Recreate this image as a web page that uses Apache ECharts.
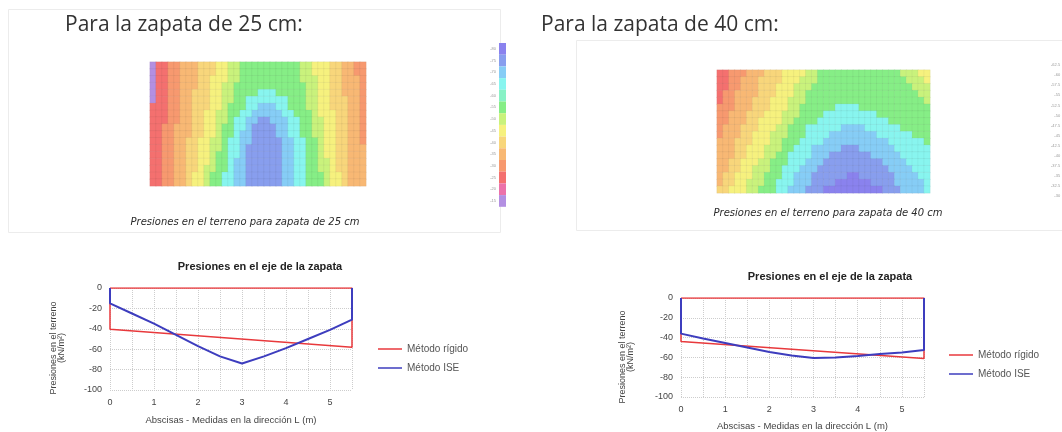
<!DOCTYPE html>
<html><head><meta charset="utf-8">
<script src="https://cdn.jsdelivr.net/npm/echarts@6/dist/echarts.min.js"></script>
<style>html,body{margin:0;padding:0;background:#fff}#c{width:1062px;height:432px}</style>
</head><body><div id="c"></div>
<script>
// ---- colour bands (contour levels) ----
const levels = [0, 0.5, 1, 2, 3, 4, 5, 6, 7, 7.5, 8, 9, 10, 11];
const levelColors = ['#b38fe2','#ec72aa','#f4706f','#f7996f','#f8b874','#f8d67b','#f6f17e','#c9f27c','#86ee86','#88f2c6','#88f5ef','#86cdf6','#889eee','#8a82ee'];
const barLabels25 = ['-15','-20','-25','-30','-35','-40','-45','-50','-55','-60','-65','-70','-75','-80'];
const barLabels40 = ['-30','-32.5','-35','-37.5','-40','-42.5','-45','-47.5','-50','-52.5','-55','-57.5','-60','-62.5'];

// ---- heat maps: each row = run-length pairs [level, end column] (36 columns x 18 rows, top row first) ----
const map25 = [
  [0,1, 1,3, 2,5, 3,8, 4,11, 5,13, 6,15, 7,25, 6,27, 5,30, 4,32, 3,34, 2,36],
  [0,1, 1,3, 2,5, 3,8, 4,11, 5,13, 6,15, 7,25, 6,27, 5,30, 4,32, 3,34, 2,36],
  [0,1, 1,3, 2,5, 3,8, 4,10, 5,13, 6,15, 7,25, 6,28, 5,30, 4,32, 3,35, 2,36],
  [0,1, 1,3, 2,5, 3,8, 4,10, 5,12, 6,14, 7,26, 6,28, 5,30, 4,32, 3,35, 2,36],
  [0,1, 1,3, 2,5, 3,7, 4,10, 5,12, 6,14, 7,18, 8,21, 7,26, 6,28, 5,30, 4,32, 3,35, 2,36],
  [0,1, 1,3, 2,5, 3,7, 4,10, 5,12, 6,14, 7,16, 8,23, 7,26, 6,28, 5,30, 4,33, 3,35, 2,36],
  [1,3, 2,5, 3,7, 4,10, 5,12, 6,13, 7,16, 8,18, 9,21, 8,23, 7,26, 6,28, 5,30, 4,33, 3,35, 2,36],
  [1,3, 2,5, 3,7, 4,9, 5,11, 6,13, 7,15, 8,17, 9,22, 8,24, 7,27, 6,28, 5,31, 4,33, 3,35, 2,36],
  [1,3, 2,5, 3,7, 4,9, 5,11, 6,13, 7,14, 8,16, 9,18, 10,20, 9,23, 8,25, 7,27, 6,29, 5,31, 4,33, 3,35, 2,36],
  [1,2, 2,4, 3,7, 4,9, 5,11, 6,12, 7,14, 8,16, 9,17, 10,21, 9,23, 8,25, 7,27, 6,29, 5,31, 4,33, 3,35, 2,36],
  [1,2, 2,4, 3,7, 4,9, 5,11, 6,12, 7,14, 8,15, 9,17, 10,21, 9,23, 8,25, 7,27, 6,29, 5,31, 4,33, 3,35, 2,36],
  [1,2, 2,4, 3,6, 4,8, 5,10, 6,12, 7,13, 8,15, 9,17, 10,22, 9,24, 8,26, 7,28, 6,29, 5,31, 4,33, 3,35, 2,36],
  [1,2, 2,4, 3,6, 4,8, 5,10, 6,12, 7,13, 8,15, 9,16, 10,22, 9,24, 8,26, 7,28, 6,29, 5,31, 4,33, 3,36],
  [1,2, 2,4, 3,6, 4,8, 5,10, 6,11, 7,13, 8,15, 9,16, 10,22, 9,24, 8,26, 7,28, 6,29, 5,31, 4,33, 3,36],
  [1,2, 2,4, 3,6, 4,8, 5,10, 6,11, 7,13, 8,14, 9,16, 10,22, 9,24, 8,26, 7,28, 6,30, 5,31, 4,33, 3,36],
  [1,2, 2,4, 3,6, 4,8, 5,9, 6,11, 7,13, 8,14, 9,16, 10,22, 9,24, 8,26, 7,28, 6,30, 5,31, 4,33, 3,36],
  [1,2, 2,4, 3,6, 4,7, 5,9, 6,10, 7,12, 8,14, 9,16, 10,22, 9,24, 8,26, 7,29, 6,30, 5,32, 4,33, 3,36],
  [1,2, 2,4, 3,6, 4,7, 5,9, 6,10, 7,12, 8,14, 9,16, 10,22, 9,24, 8,26, 7,29, 6,30, 5,32, 4,33, 3,36]
];
const map40 = [
  [1,2, 2,5, 3,8, 4,11, 5,15, 6,17, 7,31, 6,34, 5,36],
  [1,2, 2,4, 3,7, 4,11, 5,14, 6,17, 7,32, 6,35, 5,36],
  [1,2, 2,4, 3,7, 4,10, 5,13, 6,16, 7,33, 6,36],
  [1,1, 2,3, 3,7, 4,10, 5,13, 6,15, 7,34, 6,36],
  [1,1, 2,3, 3,6, 4,9, 5,12, 6,15, 7,35, 6,36],
  [2,3, 3,6, 4,9, 5,12, 6,14, 7,20, 8,24, 7,36],
  [2,2, 3,5, 4,8, 5,11, 6,14, 7,18, 8,27, 7,36],
  [2,2, 3,5, 4,7, 5,11, 6,13, 7,17, 8,29, 7,36],
  [2,1, 3,4, 4,7, 5,10, 6,12, 7,15, 8,21, 9,25, 8,31, 7,36],
  [2,1, 3,4, 4,6, 5,9, 6,12, 7,15, 8,19, 9,27, 8,33, 7,36],
  [3,3, 4,6, 5,9, 6,11, 7,14, 8,18, 9,29, 8,35, 7,36],
  [3,3, 4,5, 5,8, 6,11, 7,13, 8,16, 9,21, 10,24, 9,30, 8,36],
  [3,3, 4,5, 5,8, 6,10, 7,12, 8,16, 9,19, 10,26, 9,31, 8,36],
  [3,2, 4,4, 5,7, 6,9, 7,12, 8,15, 9,18, 10,28, 9,32, 8,36],
  [3,2, 4,4, 5,6, 6,9, 7,11, 8,14, 9,17, 10,29, 9,33, 8,36],
  [3,1, 4,3, 5,6, 6,8, 7,11, 8,13, 9,16, 10,22, 11,24, 10,30, 9,34, 8,36],
  [3,1, 4,3, 5,5, 6,8, 7,10, 8,13, 9,16, 10,20, 11,26, 10,30, 9,35, 8,36],
  [4,2, 5,5, 6,7, 7,10, 8,12, 9,15, 10,18, 11,28, 10,31, 9,35, 8,36]
];

// ---- pressure along the footing axis ----
const xPos = [0, 0.5, 1, 1.5, 2, 2.5, 3, 3.5, 4, 4.5, 5, 5.5];
const ise25 = [-15, -25, -35, -46, -57, -67, -74, -67, -59, -50, -41, -31];
const ise40 = [-36, -41, -45.5, -50, -54.5, -58, -60.5, -60, -58.5, -56.5, -55, -52.5];
const rigidoX = [0, 5.5];
const rigido25 = [-40.5, -58];
const rigido40 = [-44, -61];
const xTickLabels = [0, 1, 2, 3, 4, 5];
const yTicks = [0, -20, -40, -60, -80, -100];
const L = 5.5;

function decode(rows) {
  const out = [];
  rows.forEach((row, r) => {
    let start = 0;
    for (let i = 0; i < row.length; i += 2) {
      for (let c = start; c < row[i + 1]; c++) out.push([c, r, row[i]]);
      start = row[i + 1];
    }
  });
  return out;
}
function closedProfile(xs, ys, closeTop) {
  const d = [[xs[0], 0]];
  xs.forEach((x, i) => d.push([x, ys[i]]));
  d.push([xs[xs.length - 1], 0]);
  if (closeTop) d.push([xs[0], 0]);
  return d;
}
const cols = Array.from({length: 36}, (_, i) => String(i));
const rowsCat = Array.from({length: 18}, (_, i) => String(i));
const F = 'Liberation Sans';
const RED = '#e8393c', BLUE = '#3d3dbe';

function hmAxes(grid) {
  const hid = {show: false};
  return [
    {type: 'category', gridIndex: grid, data: cols, axisLine: hid, axisTick: hid, axisLabel: hid, splitLine: hid},
    {type: 'category', gridIndex: grid, data: rowsCat, inverse: true, axisLine: hid, axisTick: hid, axisLabel: hid, splitLine: hid}
  ];
}
function lineX(grid, gap) {
  return {type: 'value', gridIndex: grid, min: 0, max: L, interval: 0.5,
    axisLine: {show: false}, axisTick: {show: false},
    axisLabel: {formatter: v => xTickLabels.includes(v) ? String(v) : '', fontSize: 9, color: '#444', margin: 8, fontFamily: F},
    splitLine: {show: true, lineStyle: {color: '#cdcdcd', type: 'dotted', width: 1}},
    name: 'Abscisas - Medidas en la dirección L (m)', nameLocation: 'middle', nameGap: gap,
    nameTextStyle: {fontSize: 9.5, color: '#444', fontFamily: F}};
}
function lineY(grid) {
  return {type: 'value', gridIndex: grid, min: yTicks[yTicks.length - 1], max: yTicks[0], interval: 20,
    axisLine: {show: false}, axisTick: {show: false},
    axisLabel: {fontSize: 9, color: '#444', margin: 8, fontFamily: F},
    splitLine: {show: true, lineStyle: {color: '#cdcdcd', type: 'dotted', width: 1}}};
}
const hmXY = hmAxes(0), hmXY2 = hmAxes(1);

const chart = echarts.init(document.getElementById('c'), null, {renderer: 'canvas'});
chart.setOption({
  animation: false,
  backgroundColor: '#fff',
  grid: [
    {left: 150, top: 62, width: 216, height: 124},
    {left: 717, top: 70, width: 213, height: 123},
    {left: 110, top: 288, width: 242, height: 102},
    {left: 681, top: 298, width: 243, height: 99}
  ],
  xAxis: [hmXY[0], hmXY2[0], lineX(2, 25), lineX(3, 24)],
  yAxis: [hmXY[1], hmXY2[1], lineY(2), lineY(3)],
  visualMap: [
    {type: 'piecewise', seriesIndex: 0, orient: 'vertical', padding: 0,
      pieces: levels.map((v, i) => ({value: v, color: levelColors[i], label: barLabels25[i]})),
      itemWidth: 7, itemHeight: 11.7, itemGap: 0, itemSymbol: 'rect', align: 'right', textGap: 3,
      right: 556, top: 43, selectedMode: false, hoverLink: false,
      textStyle: {fontSize: 4, color: '#9a9a9a', fontFamily: F}},
    {type: 'piecewise', seriesIndex: 1, orient: 'vertical', padding: 0,
      pieces: levels.map((v, i) => ({value: v, color: levelColors[i], label: barLabels40[i]})),
      itemWidth: 7, itemHeight: 10.1, itemGap: 0, itemSymbol: 'rect', align: 'right', textGap: 6,
      left: 1051, top: 60, selectedMode: false, hoverLink: false,
      textStyle: {fontSize: 4, color: '#9a9a9a', fontFamily: F}}
  ],
  legend: [
    {data: ['Método rígido', 'Método ISE'], orient: 'vertical', left: 378, top: 343, padding: 0,
      icon: 'rect', itemWidth: 24, itemHeight: 1.5, itemGap: 7, selectedMode: false,
      textStyle: {fontSize: 10, color: '#555', fontFamily: F, lineHeight: 12}},
    {data: ['Método rígido', 'Método ISE'], orient: 'vertical', left: 949, top: 349, padding: 0,
      icon: 'rect', itemWidth: 24, itemHeight: 1.5, itemGap: 7, selectedMode: false,
      textStyle: {fontSize: 10, color: '#555', fontFamily: F, lineHeight: 12}}
  ],
  series: [
    {type: 'heatmap', xAxisIndex: 0, yAxisIndex: 0, data: decode(map25), silent: true,
      itemStyle: {borderColor: 'rgba(90,90,90,0.13)', borderWidth: 0.5}, emphasis: {disabled: true}},
    {type: 'heatmap', xAxisIndex: 1, yAxisIndex: 1, data: decode(map40), silent: true,
      itemStyle: {borderColor: 'rgba(90,90,90,0.13)', borderWidth: 0.5}, emphasis: {disabled: true}},
    {name: 'Método rígido', type: 'line', xAxisIndex: 2, yAxisIndex: 2, data: closedProfile(rigidoX, rigido25, true),
      symbol: 'none', color: RED, lineStyle: {color: RED, width: 1.5}, z: 3},
    {name: 'Método ISE', type: 'line', xAxisIndex: 2, yAxisIndex: 2, data: closedProfile(xPos, ise25, false),
      symbol: 'none', color: BLUE, lineStyle: {color: BLUE, width: 2}, z: 4},
    {name: 'Método rígido', type: 'line', xAxisIndex: 3, yAxisIndex: 3, data: closedProfile(rigidoX, rigido40, true),
      symbol: 'none', color: RED, lineStyle: {color: RED, width: 1.5}, z: 3},
    {name: 'Método ISE', type: 'line', xAxisIndex: 3, yAxisIndex: 3, data: closedProfile(xPos, ise40, false),
      symbol: 'none', color: BLUE, lineStyle: {color: BLUE, width: 2}, z: 4}
  ],
  graphic: [
    {type: 'rect', silent: true, z: -10, shape: {x: 8.5, y: 9.5, width: 492, height: 223}, style: {fill: 'none', stroke: '#ececec', lineWidth: 1}},
    {type: 'rect', silent: true, z: -10, shape: {x: 576.5, y: 40.5, width: 500, height: 190}, style: {fill: 'none', stroke: '#ececec', lineWidth: 1}},
    {type: 'text', x: 65, y: 25, style: {text: 'Para la zapata de 25 cm:', fontFamily: 'Open Sans', fontSize: 21, fill: '#333', textAlign: 'left', textVerticalAlign: 'middle'}},
    {type: 'text', x: 541, y: 25, style: {text: 'Para la zapata de 40 cm:', fontFamily: 'Open Sans', fontSize: 21, fill: '#333', textAlign: 'left', textVerticalAlign: 'middle'}},
    {type: 'text', x: 245, y: 222, style: {text: 'Presiones en el terreno para zapata de 25 cm', fontFamily: 'DejaVu Sans', fontStyle: 'italic', fontSize: 10, fill: '#2a2a2a', textAlign: 'center', textVerticalAlign: 'middle'}},
    {type: 'text', x: 828, y: 213, style: {text: 'Presiones en el terreno para zapata de 40 cm', fontFamily: 'DejaVu Sans', fontStyle: 'italic', fontSize: 10, fill: '#2a2a2a', textAlign: 'center', textVerticalAlign: 'middle'}},
    {type: 'text', x: 260, y: 267, style: {text: 'Presiones en el eje de la zapata', fontFamily: F, fontWeight: 'bold', fontSize: 11, fill: '#222', textAlign: 'center', textVerticalAlign: 'middle'}},
    {type: 'text', x: 830, y: 277, style: {text: 'Presiones en el eje de la zapata', fontFamily: F, fontWeight: 'bold', fontSize: 11, fill: '#222', textAlign: 'center', textVerticalAlign: 'middle'}},
    {type: 'text', x: 58, y: 348, rotation: Math.PI / 2, style: {text: 'Presiones en el terreno\n(kN/m²)', fontFamily: F, fontSize: 9, lineHeight: 8, fill: '#444', textAlign: 'center', textVerticalAlign: 'middle'}},
    {type: 'text', x: 627, y: 357, rotation: Math.PI / 2, style: {text: 'Presiones en el terreno\n(kN/m²)', fontFamily: F, fontSize: 9, lineHeight: 8, fill: '#444', textAlign: 'center', textVerticalAlign: 'middle'}}
  ]
});
</script></body></html>
